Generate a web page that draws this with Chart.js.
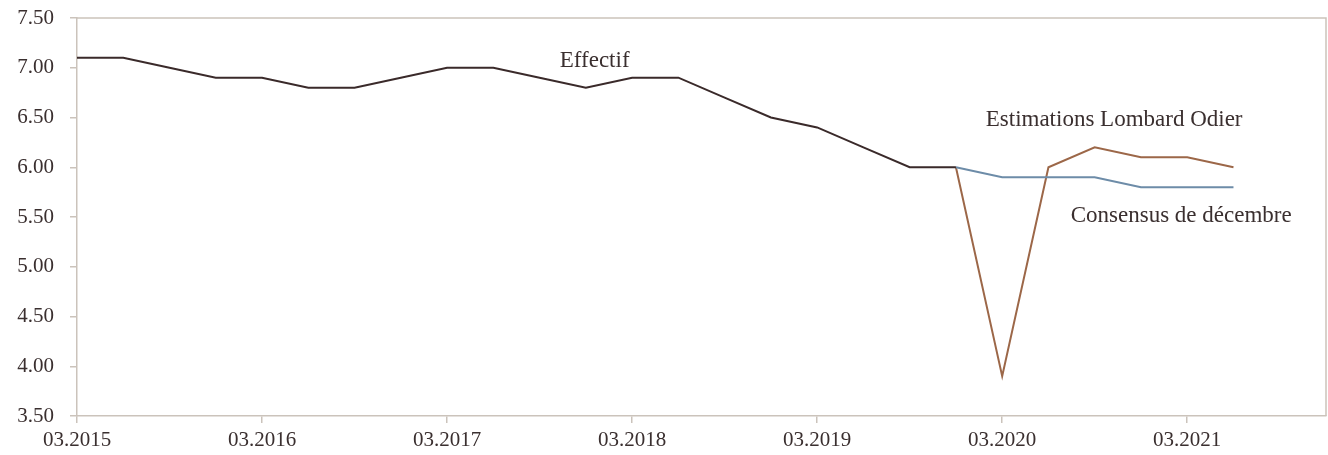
<!DOCTYPE html>
<html>
<head>
<meta charset="utf-8">
<script src="https://cdn.jsdelivr.net/npm/chart.js@4"></script>
<style>
  html, body { margin: 0; padding: 0; background: #fff; }
  #wrap { width: 1328px; height: 455px; }
</style>
</head>
<body>
<div id="wrap"><canvas id="chart"></canvas></div>
<script>
// Quarterly labels 03.2015 .. 12.2021
const quarters = [
    '03.2015', '06.2015', '09.2015', '12.2015',
    '03.2016', '06.2016', '09.2016', '12.2016',
    '03.2017', '06.2017', '09.2017', '12.2017',
    '03.2018', '06.2018', '09.2018', '12.2018',
    '03.2019', '06.2019', '09.2019', '12.2019',
    '03.2020', '06.2020', '09.2020', '12.2020',
    '03.2021', '06.2021', '09.2021', '12.2021'
];

const effectif = [
    7.10, 7.10, 7.00, 6.90, 6.90, 6.80, 6.80, 6.90,
    7.00, 7.00, 6.90, 6.80, 6.90, 6.90, 6.70, 6.50,
    6.40, 6.20, 6.00, 6.00, null, null, null, null,
    null, null, null, null
];

const consensus = [
    null, null, null, null, null, null, null, null,
    null, null, null, null, null, null, null, null,
    null, null, null, 6.00, 5.90, 5.90, 5.90, 5.80,
    5.80, 5.80, null, null
];

const lombard = [
    null, null, null, null, null, null, null, null,
    null, null, null, null, null, null, null, null,
    null, null, null, 6.00, 3.90, 6.00, 6.20, 6.10,
    6.10, 6.00, null, null
];

const yTicks = [3.5, 4.0, 4.5, 5.0, 5.5, 6.0, 6.5, 7.0, 7.5];

// Text labels placed in data coordinates (category index, value)
const seriesLabels = [
    { text: 'Effectif', x: 11.19, y: 7.07 },
    { text: 'Estimations Lombard Odier', x: 22.42, y: 6.475 },
    { text: 'Consensus de décembre', x: 23.87, y: 5.51 }
];

const axisColor = '#cbc3bb';
const textColor = '#3a2f2f';
const fontFamily = '"Liberation Serif", "DejaVu Serif", serif';

// draw frame + series labels
const decorPlugin = {
    id: 'decor',
    beforeDatasetsDraw(chart) {
        const a = chart.chartArea;
        const ctx = chart.ctx;
        ctx.save();
        ctx.strokeStyle = axisColor;
        ctx.lineWidth = 1.5;
        ctx.beginPath();
        ctx.moveTo(a.left, a.top);
        ctx.lineTo(a.right, a.top);
        ctx.lineTo(a.right, a.bottom);
        ctx.stroke();
        ctx.restore();
    },
    afterDatasetsDraw(chart) {
        const ctx = chart.ctx;
        const xs = chart.scales.x;
        const ys = chart.scales.y;
        ctx.save();
        ctx.fillStyle = textColor;
        ctx.font = '23px ' + fontFamily;
        ctx.textAlign = 'center';
        ctx.textBaseline = 'middle';
        seriesLabels.forEach(l => {
            ctx.fillText(l.text, xs.getPixelForValue(l.x), ys.getPixelForValue(l.y));
        });
        ctx.restore();
    }
};

new Chart(document.getElementById('chart'), {
    type: 'line',
    data: {
        labels: quarters,
        datasets: [
            {
                label: 'Effectif',
                data: effectif,
                borderColor: '#3a2a2a',
                borderWidth: 2,
                pointRadius: 0,
                tension: 0
            },
            {
                label: 'Consensus de décembre',
                data: consensus,
                borderColor: '#6d8ca8',
                borderWidth: 2,
                pointRadius: 0,
                tension: 0
            },
            {
                label: 'Estimations Lombard Odier',
                data: lombard,
                borderColor: '#9c6748',
                borderWidth: 2,
                pointRadius: 0,
                tension: 0
            }
        ]
    },
    options: {
        responsive: true,
        maintainAspectRatio: false,
        animation: false,
        layout: { padding: { top: 18, right: 2, left: 0, bottom: 0 } },
        plugins: {
            legend: { display: false },
            tooltip: { enabled: false }
        },
        scales: {
            x: {
                type: 'category',
                offset: false,
                border: { color: axisColor, width: 1.5 },
                grid: {
                    drawOnChartArea: false,
                    color: axisColor,
                    lineWidth: 1.5,
                    tickLength: 7
                },
                ticks: {
                    autoSkip: false,
                    maxRotation: 0,
                    color: textColor,
                    font: { family: fontFamily, size: 21 },
                    padding: 5,
                    callback: function(value, index) {
                        return index % 4 === 0 ? quarters[index] : null;
                    }
                },
                afterFit: function(scale) {
                    scale.height = 39;
                    scale.paddingLeft = 0;
                    scale.paddingRight = 0;
                }
            },
            y: {
                min: 3.5,
                max: 7.5,
                border: { color: axisColor, width: 1.5 },
                grid: {
                    drawOnChartArea: false,
                    color: axisColor,
                    lineWidth: 1.5,
                    tickLength: 7
                },
                afterBuildTicks: function(scale) {
                    scale.ticks = yTicks.map(v => ({ value: v }));
                },
                ticks: {
                    color: textColor,
                    font: { family: fontFamily, size: 21 },
                    padding: 16,
                    callback: function(value) { return Number(value).toFixed(2); }
                },
                afterFit: function(scale) {
                    scale.width = 77;
                    scale.paddingTop = 0;
                    scale.paddingBottom = 0;
                }
            }
        }
    },
    plugins: [decorPlugin]
});
</script>
</body>
</html>
